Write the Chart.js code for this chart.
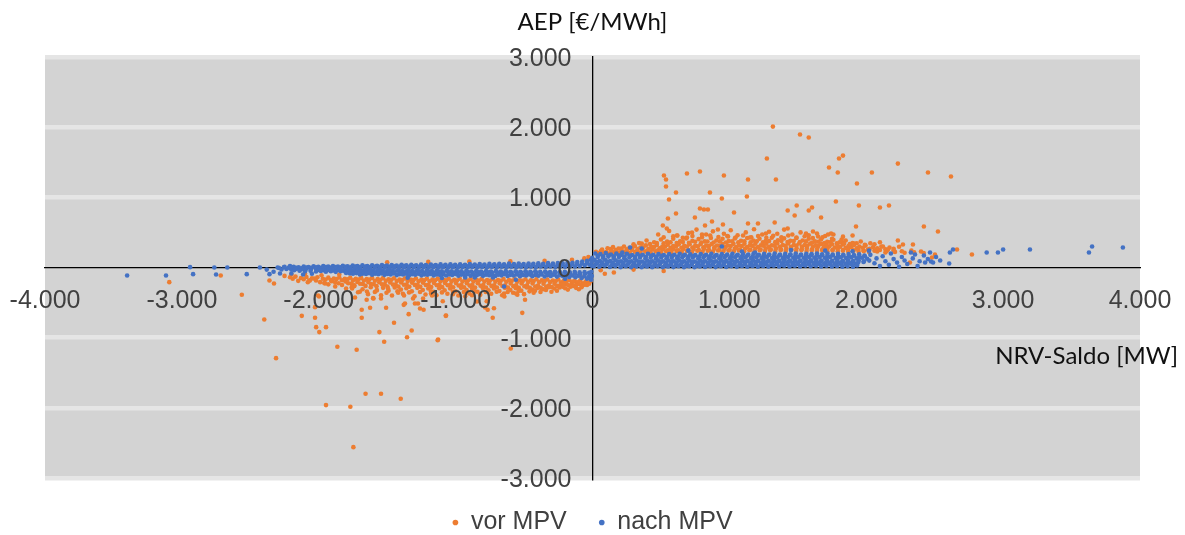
<!DOCTYPE html>
<html>
<head>
<meta charset="utf-8">
<script src="https://cdn.jsdelivr.net/npm/chart.js@4.4.1/dist/chart.umd.min.js"></script>
<style>
html,body{margin:0;padding:0;background:#fff;}
#c{display:block;}
</style>
</head>
<body>
<canvas id="c" width="1185" height="535"></canvas>
<script>
// ---------- tick labels ----------
const xTicks = [-4000,-3000,-2000,-1000,0,1000,2000,3000,4000];
const xTickLabels = ['-4.000','-3.000','-2.000','-1.000','0','1.000','2.000','3.000','4.000'];
const yTicks = [-3000,-2000,-1000,0,1000,2000,3000];
const yTickLabels = ['-3.000','-2.000','-1.000','0','1.000','2.000','3.000'];
const seriesNames = ['vor MPV','nach MPV'];
const xTitle = 'NRV-Saldo [MW]';
const yTitle = 'AEP [€/MWh]';

// ---------- "vor MPV" (orange) values [NRV-Saldo, AEP] ----------
const vorNegBand1 = [[-2210,-140],[-2170,-130],[-2130,-150],[-2090,-135],[-2050,-155],[-2010,-140],[-1970,-160],[-1930,-145],[-1890,-158],[-1850,-142],[-1810,-162],[-1770,-146],[-1730,-160],[-1690,-148],[-1650,-165],[-1610,-150],[-1570,-166],[-1530,-152],[-1490,-168],[-1450,-153],[-1410,-170],[-1370,-155],[-1330,-171],[-1290,-156],[-1250,-172],[-1210,-158],[-1170,-173],[-1130,-159],[-1090,-174],[-1050,-160],[-1010,-175],[-970,-161],[-930,-176],[-890,-162],[-850,-177],[-810,-163],[-770,-178],[-730,-164],[-690,-179],[-650,-165],[-610,-180],[-570,-166],[-530,-181],[-490,-167],[-450,-182],[-410,-168],[-370,-183],[-330,-170],[-290,-185],[-250,-172],[-210,-188],[-170,-178],[-130,-192],[-90,-185],[-50,-200],[-15,-195]];
const vorNegBand1b = [[-2190,-160],[-2110,-168],[-2030,-158],[-1950,-172],[-1910,-180],[-1870,-165],[-1830,-182],[-1790,-168],[-1750,-184],[-1710,-170],[-1670,-186],[-1630,-172],[-1590,-188],[-1550,-174],[-1510,-190],[-1470,-176],[-1430,-192],[-1390,-178],[-1350,-194],[-1310,-180],[-1270,-195],[-1230,-182],[-1190,-196],[-1150,-183],[-1110,-197],[-1070,-184],[-1030,-198],[-990,-185],[-950,-199],[-910,-186],[-870,-200],[-830,-187],[-790,-201],[-750,-188],[-710,-202],[-670,-189],[-630,-203],[-590,-190],[-550,-204],[-510,-191],[-470,-205],[-430,-192],[-390,-206],[-350,-194],[-310,-208],[-270,-196],[-230,-210],[-190,-200],[-150,-215],[-110,-210],[-70,-225],[-35,-220]];
const vorNegBand2 = [[-2150,-190],[-2080,-210],[-2020,-185],[-1960,-220],[-1905,-195],[-1855,-225],[-1805,-200],[-1760,-230],[-1718,-205],[-1678,-235],[-1638,-208],[-1598,-238],[-1558,-210],[-1518,-240],[-1478,-212],[-1438,-242],[-1398,-214],[-1358,-244],[-1318,-216],[-1278,-245],[-1238,-218],[-1198,-246],[-1158,-220],[-1118,-247],[-1078,-221],[-1038,-248],[-998,-222],[-958,-249],[-918,-223],[-878,-250],[-838,-224],[-798,-251],[-758,-225],[-718,-252],[-678,-226],[-638,-253],[-598,-227],[-558,-254],[-518,-228],[-478,-255],[-438,-229],[-398,-256],[-358,-230],[-318,-257],[-278,-232],[-238,-258],[-198,-235],[-158,-260],[-118,-240],[-78,-262],[-40,-250]];
const vorNegBand2b = [[-1930,-240],[-1880,-215],[-1830,-250],[-1785,-225],[-1740,-255],[-1698,-232],[-1658,-262],[-1618,-236],[-1578,-266],[-1538,-240],[-1498,-270],[-1458,-244],[-1418,-272],[-1378,-246],[-1338,-275],[-1298,-248],[-1258,-276],[-1218,-250],[-1178,-278],[-1138,-252],[-1098,-280],[-1058,-254],[-1018,-282],[-978,-256],[-938,-283],[-898,-258],[-858,-284],[-818,-260],[-778,-285],[-738,-262],[-698,-286],[-658,-264],[-618,-287],[-578,-266],[-538,-288],[-498,-268],[-458,-289],[-418,-270],[-378,-290],[-338,-272],[-298,-278],[-258,-262],[-218,-272],[-178,-250],[-138,-262],[-98,-235],[-58,-245],[-25,-230]];
const vorNegBand3 = [[-1880,-270],[-1800,-300],[-1740,-265],[-1680,-310],[-1620,-280],[-1575,-320],[-1530,-290],[-1490,-330],[-1445,-285],[-1400,-315],[-1360,-295],[-1320,-340],[-1280,-290],[-1240,-320],[-1200,-300],[-1160,-345],[-1120,-295],[-1080,-325],[-1040,-300],[-1000,-340],[-960,-290],[-920,-320],[-880,-300],[-840,-345],[-800,-295],[-760,-325],[-720,-300],[-680,-335],[-640,-290],[-600,-320],[-560,-295],[-520,-330],[-480,-285],[-440,-315],[-400,-290],[-360,-310],[-320,-280],[-280,-300],[-240,-285],[-200,-295],[-160,-275],[-120,-290],[-80,-280]];
const vorNegBand3b = [[-1700,-345],[-1640,-380],[-1590,-350],[-1545,-395],[-1505,-360],[-1465,-400],[-1425,-340],[-1385,-375],[-1340,-355],[-1300,-410],[-1260,-350],[-1220,-385],[-1180,-340],[-1140,-395],[-1100,-355],[-1060,-375],[-1020,-345],[-980,-400],[-940,-350],[-900,-370],[-860,-340],[-820,-390],[-780,-350],[-740,-375],[-700,-345],[-660,-395],[-620,-350],[-580,-360],[-540,-335],[-500,-380],[-460,-340],[-420,-330],[-380,-350],[-340,-320],[-260,-330],[-180,-315],[-100,-310]];
const vorNegScatter = [[-3092,-209],[-2716,-114],[-2562,-389],[-2398,-741],[-2312,-1292],[-2360,-185],[-2327,-228],[-2124,-689],[-2070,-185],[-2027,-565],[-2027,-717],[-2019,-850],[-1996,-921],[-1990,-209],[-1954,-228],[-1947,-850],[-1998,-413],[-1864,-1130],[-1723,-1173],[-1686,-717],[-1686,-603],[-1625,-574],[-1557,-921],[-1522,-1059],[-1508,-574],[-1450,-788],[-1321,-897],[-1355,-993],[-1131,-1036],[-1343,-665],[-1379,-532],[-1072,-689],[-1234,-603],[-597,-1154],[-729,-717],[-720,-580],[-513,-646],[-493,-460],[-766,-603],[-1658,-1799],[-1545,-1799],[-1401,-1871],[-1947,-1961],[-1769,-1985],[-1747,-2560],[-1759,-280],[-1713,-352],[-1650,-460],[-1603,-437],[-1577,-328],[-1494,-299],[-1377,-399],[-1311,-442],[-1275,-513],[-1094,-480],[-773,-480],[-644,-413],[-549,-389],[-1128,-1026],[-1070,-684],[-1370,-513],[-1260,-584],[-1297,-513],[-1238,-442],[-1172,-399],[-844,-484],[-646,-370],[-559,-370],[-785,-570],[-216,-228],[-142,-199],[-77,-142],[-1600,-442],[-1545,-442],[-1735,-427],[-1648,-342],[-1756,-299],[-2250,-120],[-2200,-100],[-2100,-90],[-1980,-110],[-1850,-100],[-1500,75],[-1200,80],[-900,85],[-600,90],[-350,95],[-150,110],[-60,130],[-30,150],[-18,-140],[-2005,-399],[-2065,-185],[-930,-410],[-1020,-380],[-430,-360],[-300,-345],[-1420,-360],[-1180,-370],[-880,-395]];
const vorPosBand0 = [[44,205],[82,212],[120,200],[158,215],[196,205],[234,220],[272,210],[310,225],[348,212],[386,228],[424,215],[462,230],[500,218],[538,232],[576,220],[614,234],[652,222],[690,236],[728,224],[766,238],[804,226],[842,240],[880,228],[918,242],[956,230],[994,243],[1032,231],[1070,244],[1108,232],[1146,245],[1184,233],[1222,246],[1260,234],[1298,247],[1336,235],[1374,248],[1412,236],[1450,249],[1488,237],[1526,248],[1564,236],[1602,247],[1640,234],[1678,245],[1716,232],[1754,243],[1792,230],[1830,240],[1868,228],[1906,236],[1944,224],[1982,232],[2020,220],[2080,228],[2140,215],[2210,222],[2280,210],[2350,215],[2420,205]];
const vorPosBand1 = [[25,225],[62,235],[100,220],[138,240],[175,228],[213,245],[250,232],[288,250],[326,236],[363,255],[401,240],[438,258],[476,242],[514,260],[551,245],[589,262],[626,246],[664,264],[702,248],[739,265],[777,249],[814,266],[852,250],[890,267],[927,251],[965,268],[1002,252],[1040,269],[1078,253],[1115,270],[1153,254],[1190,271],[1228,255],[1266,272],[1303,256],[1341,273],[1378,257],[1416,274],[1454,258],[1491,275],[1529,259],[1566,274],[1604,258],[1642,272],[1679,256],[1717,270],[1754,254],[1792,266],[1830,250],[1867,262],[1905,246],[1942,258],[1980,242],[2017,254],[2060,238],[2100,250],[2150,236],[2200,245],[2260,232],[2330,240],[2400,228]];
const vorPosBand1b = [[70,255],[130,262],[170,250],[210,270],[250,258],[290,280],[330,262],[370,285],[410,268],[450,292],[490,274],[530,296],[570,280],[610,298],[650,282],[690,300],[730,285],[770,302],[810,287],[850,304],[890,289],[930,305],[970,290],[1010,306],[1050,291],[1090,307],[1130,292],[1170,308],[1210,293],[1250,309],[1290,294],[1330,310],[1370,295],[1410,311],[1450,296],[1490,312],[1530,297],[1570,310],[1610,294],[1650,306],[1690,290],[1730,302],[1770,286],[1810,296],[1850,280],[1890,290],[1930,272],[1975,282],[2025,265],[2080,275],[2140,260],[2200,268]];
const vorPosBand2 = [[110,275],[150,290],[190,270],[230,300],[270,280],[310,305],[350,285],[390,315],[430,295],[470,320],[510,300],[550,325],[590,305],[630,330],[670,308],[710,332],[750,310],[790,334],[830,312],[870,335],[910,313],[950,336],[990,314],[1030,337],[1070,315],[1110,338],[1150,316],[1190,339],[1230,317],[1270,340],[1310,318],[1350,341],[1390,319],[1430,342],[1470,320],[1510,343],[1550,321],[1590,340],[1630,318],[1670,336],[1710,315],[1750,332],[1790,310],[1830,328],[1870,305],[1910,320],[1950,298],[1995,312],[2050,290],[2110,300],[2170,285],[2240,295]];
const vorPosBand2b = [[300,330],[360,340],[420,335],[470,350],[520,345],[570,360],[615,350],[660,365],[705,352],[750,368],[795,355],[840,370],[885,356],[930,372],[975,357],[1020,373],[1065,358],[1110,374],[1155,359],[1200,375],[1245,360],[1290,376],[1335,361],[1380,377],[1425,362],[1470,378],[1515,363],[1560,372],[1605,355],[1650,368],[1695,350],[1740,362],[1785,345],[1830,355],[1880,335],[1930,345],[1990,325],[2060,330]];
const vorPosBand3 = [[340,350],[395,385],[450,360],[500,400],[545,370],[590,410],[640,375],[685,415],[730,380],[775,405],[820,372],[865,420],[905,385],[950,410],[995,378],[1040,415],[1085,382],[1130,420],[1175,385],[1220,410],[1265,378],[1310,425],[1355,388],[1400,415],[1445,380],[1490,420],[1535,385],[1580,410],[1625,372],[1670,400],[1715,365],[1760,395],[1805,360],[1850,385],[1900,350],[1960,370],[2030,345],[2100,360]];
const vorPosBand3b = [[520,430],[590,445],[660,425],[730,450],[800,430],[860,455],[920,435],[985,450],[1045,428],[1100,455],[1160,432],[1210,448],[1270,425],[1320,452],[1380,430],[1430,455],[1490,428],[1550,445],[1610,420],[1680,430],[1750,410],[1820,400]];
const vorPosBand4 = [[480,470],[560,520],[620,455],[700,490],[760,540],[830,470],[880,515],[960,480],[1010,530],[1060,460],[1120,500],[1180,545],[1240,470],[1290,510],[1350,480],[1400,540],[1460,470],[1520,500],[1580,460],[1640,485],[1700,450],[1760,470],[1830,440],[1900,455]];
const vorPosScatter = [[1318,2008],[1516,1895],[1580,1852],[1274,1553],[1340,1254],[1136,1254],[1128,1011],[960,1311],[785,1368],[690,1339],[522,1311],[537,1254],[537,1154],[610,1068],[559,969],[858,1068],[945,983],[785,840],[814,826],[843,826],[1034,783],[748,712],[551,698],[610,769],[873,655],[822,598],[953,612],[514,598],[543,556],[617,456],[916,541],[1136,627],[1209,627],[1331,641],[1426,556],[1426,812],[1477,741],[1492,883],[1267,484],[1150,427],[990,441],[800,470],[690,427],[727,498],[1728,1425],[1792,1353],[1801,1553],[1830,1595],[1932,1197],[2041,1353],[2231,1481],[2451,1353],[2619,1296],[1778,940],[1946,883],[2100,855],[2166,883],[1580,812],[1604,855],[1670,712],[1925,584],[2421,584],[2524,513],[1611,513],[1743,484],[1721,470],[1648,441],[1560,484],[1838,342],[1910,342],[2231,385],[2268,328],[2341,328],[2012,256],[2122,299],[2159,256],[2502,185],[2480,142],[2663,256],[2772,185],[2319,71],[156,-71],[60,-40],[300,-30],[520,-50],[90,-90]];

// ---------- "nach MPV" (blue) values [NRV-Saldo, AEP] ----------
const nachNegRowA = [[-2290,-8],[-2255,4],[-2218,-2],[-2183,10],[-2147,3],[-2110,14],[-2075,6],[-2038,16],[-2003,9],[-1967,20],[-1931,12],[-1896,22],[-1860,15],[-1824,25],[-1789,18],[-1752,28],[-1717,20],[-1681,30],[-1645,22],[-1610,32],[-1574,25],[-1538,34],[-1502,27],[-1467,36],[-1431,28],[-1395,38],[-1360,30],[-1324,40],[-1288,32],[-1252,41],[-1217,34],[-1181,42],[-1145,35],[-1110,44],[-1074,37],[-1038,45],[-1003,38],[-967,46],[-931,40],[-896,48],[-860,41],[-824,50],[-789,43],[-753,51],[-717,45],[-681,53],[-646,46],[-610,55],[-574,48],[-539,56],[-503,50],[-467,58],[-432,52],[-396,60],[-360,54],[-325,62],[-289,56],[-253,64],[-218,60],[-182,70],[-146,66],[-111,78],[-75,85],[-40,95],[-12,110]];
const nachNegRowAB = [[-2200,-12],[-2164,-5],[-2128,-10],[-2092,0],[-2056,-6],[-2020,3],[-1984,-3],[-1948,5],[-1912,0],[-1876,8],[-1840,2],[-1804,10],[-1768,4],[-1732,12],[-1696,6],[-1660,14],[-1624,8],[-1588,15],[-1552,9],[-1516,17],[-1480,10],[-1444,18],[-1408,12],[-1372,20],[-1336,13],[-1300,21],[-1264,14],[-1228,22],[-1192,15],[-1156,23],[-1120,16],[-1084,24],[-1048,17],[-1012,25],[-976,18],[-940,26],[-904,20],[-868,28],[-832,21],[-796,29],[-760,22],[-724,30],[-688,24],[-652,32],[-616,25],[-580,33],[-544,26],[-508,34],[-472,28],[-436,36],[-400,30],[-364,38],[-328,32],[-292,40],[-256,35],[-220,42],[-184,40],[-148,48],[-112,50],[-76,58],[-40,65]];
const nachNegRowB = [[-2272,-28],[-2236,-20],[-2201,-30],[-2165,-22],[-2129,-26],[-2093,-18],[-2057,-25],[-2021,-16],[-1985,-22],[-1949,-14],[-1913,-20],[-1878,-12],[-1842,-18],[-1806,-10],[-1770,-16],[-1735,-8],[-1699,-14],[-1663,-6],[-1627,-12],[-1592,-5],[-1556,-10],[-1520,-3],[-1484,-9],[-1449,-2],[-1413,-8],[-1377,0],[-1342,-6],[-1306,1],[-1270,-5],[-1234,2],[-1199,-4],[-1163,3],[-1127,-3],[-1092,4],[-1056,-2],[-1020,5],[-985,-2],[-949,6],[-913,-1],[-878,7],[-842,0],[-806,8],[-771,0],[-735,9],[-699,1],[-663,10],[-628,2],[-592,11],[-556,3],[-521,12],[-485,4],[-449,13],[-414,5],[-378,14],[-342,6],[-307,15],[-271,8],[-235,16],[-200,10],[-164,18],[-128,14],[-93,22],[-57,30],[-22,40]];
const nachNegRowBC = [[-2180,-40],[-2140,-45],[-2100,-38],[-2000,-36],[-1965,-40],[-1930,-34],[-1895,-42],[-1858,-36],[-1822,-44],[-1786,-37],[-1750,-45],[-1714,-38],[-1678,-46],[-1642,-39],[-1606,-47],[-1570,-40],[-1534,-48],[-1498,-41],[-1462,-49],[-1426,-42],[-1390,-50],[-1354,-43],[-1318,-51],[-1282,-44],[-1246,-52],[-1210,-45],[-1174,-52],[-1138,-46],[-1102,-53],[-1066,-46],[-1030,-54],[-994,-47],[-958,-55],[-922,-48],[-886,-56],[-850,-49],[-814,-57],[-778,-50],[-742,-58],[-706,-51],[-670,-59],[-634,-52],[-598,-60],[-562,-53],[-526,-61],[-490,-54],[-454,-62],[-418,-55],[-382,-63],[-346,-56],[-310,-64],[-274,-58],[-238,-66],[-202,-60],[-166,-68],[-130,-62],[-94,-70],[-58,-66],[-25,-75]];
const nachNegRowC = [[-2100,-55],[-2060,-48],[-2020,-58],[-1985,-50],[-1948,-60],[-1912,-52],[-1876,-62],[-1840,-54],[-1804,-64],[-1768,-55],[-1733,-65],[-1697,-56],[-1661,-66],[-1625,-57],[-1590,-67],[-1554,-58],[-1518,-68],[-1482,-59],[-1447,-69],[-1411,-60],[-1375,-70],[-1340,-61],[-1304,-70],[-1268,-62],[-1232,-71],[-1197,-62],[-1161,-72],[-1125,-63],[-1090,-72],[-1054,-64],[-1018,-73],[-983,-64],[-947,-74],[-911,-65],[-876,-74],[-840,-66],[-804,-75],[-769,-66],[-733,-76],[-697,-67],[-661,-77],[-626,-68],[-590,-78],[-554,-69],[-519,-79],[-483,-70],[-447,-80],[-412,-71],[-376,-82],[-340,-73],[-305,-84],[-269,-75],[-233,-86],[-198,-78],[-162,-90],[-126,-84],[-91,-95],[-55,-90],[-20,-105]];
const nachNegRowCD = [[-1800,-78],[-1772,-84],[-1725,-80],[-1680,-88],[-1632,-82],[-1588,-90],[-1542,-84],[-1498,-92],[-1452,-86],[-1408,-94],[-1362,-88],[-1318,-96],[-1272,-90],[-1228,-98],[-1182,-91],[-1138,-99],[-1092,-92],[-1048,-100],[-1002,-93],[-958,-101],[-912,-94],[-868,-102],[-822,-95],[-778,-103],[-732,-96],[-688,-104],[-642,-97],[-598,-105],[-552,-98],[-508,-106],[-462,-99],[-418,-107],[-372,-100],[-328,-108],[-282,-102],[-238,-110],[-192,-106],[-148,-115],[-102,-118],[-60,-125],[-28,-135]];
const nachNegRowD = [[-1750,-90],[-1700,-98],[-1655,-92],[-1610,-102],[-1565,-95],[-1520,-105],[-1475,-98],[-1430,-108],[-1385,-100],[-1340,-110],[-1295,-102],[-1250,-112],[-1205,-104],[-1160,-113],[-1115,-105],[-1070,-115],[-1025,-106],[-980,-116],[-935,-108],[-890,-118],[-845,-109],[-800,-119],[-755,-110],[-710,-120],[-665,-112],[-620,-122],[-575,-113],[-530,-123],[-485,-115],[-440,-125],[-395,-117],[-350,-128],[-305,-120],[-260,-130],[-215,-125],[-170,-135],[-125,-140],[-80,-150],[-40,-160],[-10,-175]];
const nachNegScatter = [[-3400,-114],[-3116,-114],[-2940,5],[-2918,-95],[-2763,0],[-2750,-100],[-2668,0],[-2526,-95],[-2430,0],[-2380,-30],[-2360,-95],[-2300,0],[-2283,-85],[-2330,-60],[-2200,-85],[-2114,-100],[-2050,-90],[-2250,10],[-2210,20],[-646,-270],[-930,-142],[-860,-142],[-727,-142],[-200,-160],[-1100,-150],[-1350,-145],[-560,-175],[-5,-120],[-8,-60],[-3,20],[-6,80],[-2,140]];
const nachPosRow1 = [[20,200],[58,190],[97,205],[135,185],[174,198],[212,180],[251,195],[290,178],[328,192],[367,182],[405,196],[444,180],[482,193],[521,178],[560,190],[598,182],[637,195],[675,180],[714,188],[752,176],[791,192],[830,181],[868,195],[907,178],[945,190],[984,183],[1022,196],[1061,180],[1100,192],[1138,184],[1177,198],[1215,182],[1254,194],[1292,186],[1331,199],[1370,184],[1408,196],[1447,188],[1485,200],[1524,186],[1562,197],[1601,190],[1640,200],[1678,188],[1717,198],[1755,185],[1794,195],[1832,180],[1871,192],[1910,176],[1948,188],[1987,172]];
const nachPosRow12 = [[39,168],[78,160],[117,172],[156,158],[195,170],[234,156],[273,168],[312,155],[351,166],[390,154],[429,167],[468,155],[507,168],[546,154],[585,166],[624,157],[663,169],[702,156],[741,167],[780,155],[819,166],[858,158],[897,170],[936,157],[975,168],[1014,159],[1053,171],[1092,160],[1131,172],[1170,161],[1209,173],[1248,162],[1287,174],[1326,163],[1365,175],[1404,164],[1443,176],[1482,165],[1521,176],[1560,166],[1599,177],[1638,167],[1677,176],[1716,165],[1755,174],[1794,162],[1833,172],[1872,158],[1911,168],[1950,152],[1989,160]];
const nachPosRow2 = [[38,150],[77,140],[116,155],[154,135],[193,148],[232,132],[270,145],[309,130],[347,143],[386,128],[425,141],[463,130],[502,144],[540,128],[579,140],[618,132],[656,145],[695,130],[733,142],[772,128],[811,141],[849,133],[888,146],[926,131],[965,143],[1004,132],[1042,145],[1081,134],[1119,147],[1158,133],[1197,146],[1235,136],[1274,148],[1312,135],[1351,147],[1390,137],[1428,150],[1467,138],[1505,149],[1544,139],[1583,151],[1621,140],[1660,150],[1698,138],[1737,148],[1776,136],[1814,146],[1853,134],[1891,144],[1930,130],[1969,140],[2007,125]];
const nachPosRow3 = [[15,105],[53,95],[92,110],[130,92],[169,104],[208,90],[246,102],[285,88],[323,100],[362,86],[401,98],[439,88],[478,101],[516,87],[555,99],[594,89],[632,102],[671,88],[709,100],[748,86],[787,98],[825,90],[864,103],[902,89],[941,101],[980,91],[1018,104],[1057,92],[1095,105],[1134,93],[1173,106],[1211,95],[1250,107],[1288,96],[1327,108],[1366,97],[1404,109],[1443,98],[1481,110],[1520,100],[1559,111],[1597,101],[1636,110],[1674,99],[1713,108],[1752,97],[1790,106],[1829,95],[1867,104],[1906,92],[1945,100],[1983,90],[2022,98]];
const nachPosRow34 = [[30,82],[69,74],[108,86],[147,72],[186,84],[225,70],[264,82],[303,68],[342,80],[381,66],[420,78],[459,68],[498,81],[537,67],[576,79],[615,69],[654,81],[693,68],[732,80],[771,66],[810,78],[849,70],[888,82],[927,69],[966,81],[1005,71],[1044,83],[1083,72],[1122,84],[1161,73],[1200,85],[1239,75],[1278,86],[1317,76],[1356,87],[1395,77],[1434,88],[1473,78],[1512,89],[1551,79],[1590,90],[1629,80],[1668,88],[1707,78],[1746,86],[1785,76],[1824,84],[1863,74],[1902,82],[1941,70],[1980,78]];
const nachPosRow4 = [[33,62],[72,52],[110,66],[149,50],[188,62],[226,48],[265,60],[303,46],[342,58],[381,45],[419,57],[458,47],[496,60],[535,46],[574,58],[612,48],[651,60],[689,47],[728,59],[767,46],[805,58],[844,49],[882,61],[921,48],[960,60],[998,50],[1037,62],[1075,51],[1114,63],[1153,52],[1191,64],[1230,54],[1268,65],[1307,55],[1346,66],[1384,56],[1423,67],[1461,57],[1500,68],[1539,58],[1577,69],[1616,60],[1654,68],[1693,58],[1732,66],[1770,56],[1809,64],[1847,54],[1886,62],[1925,52]];
const nachPosRow45 = [[22,42],[61,32],[100,45],[139,30],[178,42],[217,28],[256,40],[295,26],[334,38],[373,25],[412,37],[451,27],[490,40],[529,26],[568,38],[607,28],[646,40],[685,27],[724,39],[763,26],[802,38],[841,29],[880,41],[919,28],[958,40],[997,30],[1036,42],[1075,31],[1114,43],[1153,32],[1192,44],[1231,34],[1270,45],[1309,35],[1348,46],[1387,36],[1426,47],[1465,37],[1504,48],[1543,38],[1582,49],[1621,40],[1660,48],[1699,38],[1738,46],[1777,36],[1816,44],[1855,34],[1894,42],[1933,30]];
const nachPosRow5 = [[12,20],[50,10],[89,25],[127,8],[166,20],[205,5],[243,18],[282,4],[320,16],[359,3],[398,15],[436,5],[475,18],[513,4],[552,16],[591,6],[629,18],[668,5],[706,17],[745,4],[784,16],[822,7],[861,19],[899,6],[938,18],[977,8],[1015,20],[1054,9],[1092,21],[1131,10],[1170,22],[1208,12],[1247,23],[1285,13],[1324,24],[1363,14],[1401,25],[1440,15],[1478,26],[1517,16],[1556,27],[1594,18],[1633,26],[1671,16],[1710,24],[1749,14],[1787,22],[1826,12],[1864,20],[1903,10]];
const nachPosScatter = [[2030,180],[2060,60],[2075,130],[2100,20],[2120,160],[2140,90],[2165,40],[2180,200],[2200,120],[2225,70],[2240,10],[2260,150],[2280,100],[2300,50],[2326,214],[2340,130],[2356,185],[2375,20],[2390,90],[2421,170],[2430,71],[2450,120],[2466,214],[2473,85],[2488,71],[2510,150],[2540,100],[2606,57],[2611,214],[2634,256],[2880,214],[2962,214],[3000,256],[3196,256],[3627,214],[3650,300],[3875,285],[218,214],[275,285],[360,270],[945,300],[1092,228],[1187,214],[700,240],[1450,250],[1700,240],[1900,230],[2020,240]];

const toPts = arr => arr.map(p => ({x: p[0], y: p[1]}));
const vorMPV = toPts([].concat(vorNegBand1, vorNegBand1b, vorNegBand2, vorNegBand2b, vorNegBand3, vorNegBand3b, vorNegScatter,
  vorPosBand0, vorPosBand1, vorPosBand1b, vorPosBand2, vorPosBand2b, vorPosBand3, vorPosBand3b, vorPosBand4, vorPosScatter));
const nachMPV = toPts([].concat(nachNegRowA, nachNegRowAB, nachNegRowB, nachNegRowBC, nachNegRowC, nachNegRowCD, nachNegRowD, nachNegScatter,
  nachPosRow1, nachPosRow12, nachPosRow2, nachPosRow3, nachPosRow34, nachPosRow4, nachPosRow45, nachPosRow5, nachPosScatter));

const TICK_FONT = '25px "Liberation Sans", Arial, sans-serif';
const TICK_COLOR = '#404040';

const plotBg = {
  id: 'plotBg',
  beforeDraw(chart) {
    const {ctx, chartArea: a} = chart;
    ctx.save();
    ctx.fillStyle = '#d3d3d3';
    ctx.fillRect(a.left, a.top, a.right - a.left, a.bottom - a.top);
    ctx.restore();
  }
};

const axisText = {
  id: 'axisText',
  afterDatasetsDraw(chart) {
    const {ctx, scales: {x, y}} = chart;
    const x0 = x.getPixelForValue(0);
    const y0 = y.getPixelForValue(0);
    ctx.save();
    ctx.font = TICK_FONT;
    ctx.fillStyle = TICK_COLOR;
    ctx.textBaseline = 'alphabetic';
    ctx.textAlign = 'right';
    yTicks.forEach((v, i) => {
      ctx.fillText(yTickLabels[i], x0 - 21, y.getPixelForValue(v) + 9);
    });
    ctx.textAlign = 'center';
    xTicks.forEach((v, i) => {
      ctx.fillText(xTickLabels[i], x.getPixelForValue(v), y0 + 40);
    });
    ctx.font = '24px Lato, "Liberation Sans", sans-serif';
    ctx.fillStyle = '#111';
    ctx.textAlign = 'right';
    ctx.textBaseline = 'middle';
    ctx.fillText(xTitle, 1178, 356);
    ctx.restore();
  }
};

new Chart(document.getElementById('c'), {
  type: 'scatter',
  data: {
    datasets: [
      {label: seriesNames[0], data: vorMPV, backgroundColor: '#ED7D31', borderColor: '#ED7D31', pointRadius: 2.3, pointBorderWidth: 0, order: 2},
      {label: seriesNames[1], data: nachMPV, backgroundColor: '#4472C4', borderColor: '#4472C4', pointRadius: 2.3, pointBorderWidth: 0, order: 1}
    ]
  },
  options: {
    responsive: false,
    animation: false,
    devicePixelRatio: 1,
    layout: {padding: {left: 45, right: 45, top: 0, bottom: -10}},
    scales: {
      x: {
        type: 'linear', min: -4000, max: 4000, position: {y: 0},
        ticks: {display: false, stepSize: 1000},
        grid: {display: false},
        border: {display: true, color: '#000', width: 1.3}
      },
      y: {
        type: 'linear', min: -3000, max: 3000, position: {x: 0},
        ticks: {display: false, stepSize: 1000},
        grid: {
          color: c => (c.tick && c.tick.value === 0) ? 'rgba(0,0,0,0)' : '#e5e5e5',
          lineWidth: 4.5, drawTicks: false
        },
        border: {display: true, color: '#000', width: 1.3}
      }
    },
    plugins: {
      title: {
        display: true, text: yTitle, color: '#111',
        font: {family: 'Lato', size: 24, weight: 'normal'},
        padding: {top: 8, bottom: 20.2}
      },
      legend: {
        display: true, position: 'bottom',
        labels: {
          usePointStyle: true, pointStyle: 'circle', boxWidth: 6, boxHeight: 4,
          padding: 32, color: '#404040',
          font: {family: '"Liberation Sans", Arial, sans-serif', size: 25},
          sort: (a, b) => a.datasetIndex - b.datasetIndex
        }
      },
      tooltip: {enabled: false}
    }
  },
  plugins: [plotBg, axisText]
});
</script>
</body>
</html>
